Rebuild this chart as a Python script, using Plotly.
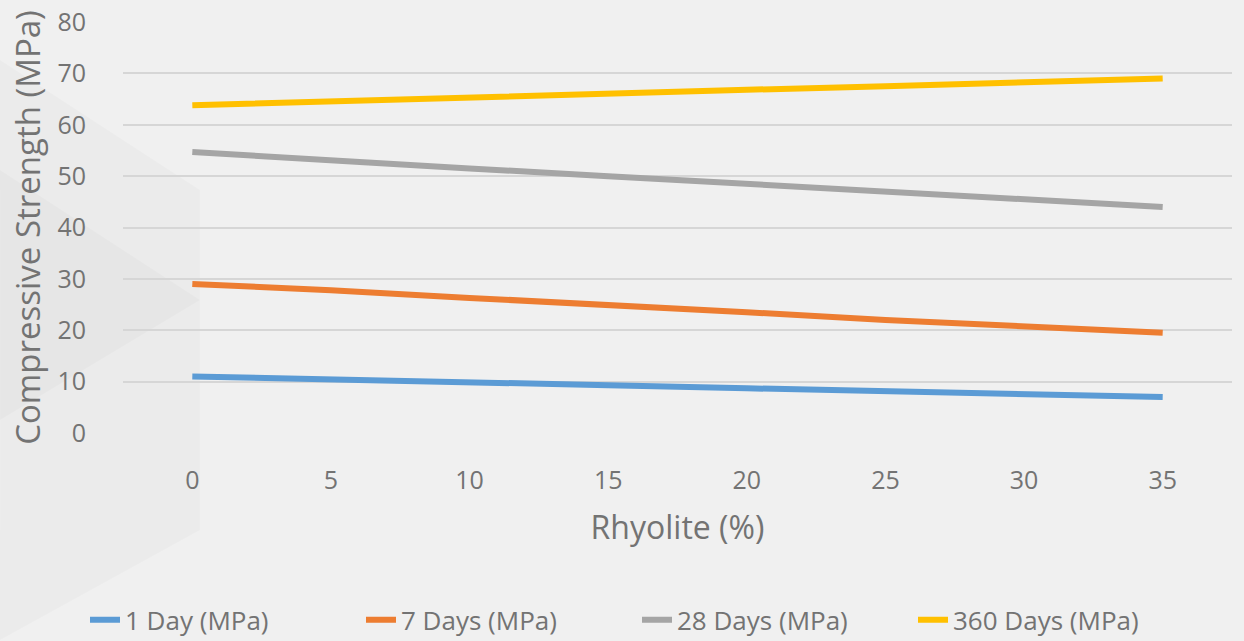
import plotly.graph_objects as go

rhyolite = [0, 5, 10, 15, 20, 25, 30, 35]
day1 = [11.0, 10.5, 10.0, 9.3, 8.7, 8.1, 7.6, 7.0]
day7 = [29.0, 27.8, 26.3, 25.0, 23.5, 22.0, 20.8, 19.5]
day28 = [54.7, 53.0, 51.5, 50.0, 48.5, 47.0, 45.5, 44.0]
day360 = [63.8, 64.6, 65.4, 66.1, 66.8, 67.5, 68.2, 69.0]

series = [
    ("1 Day (MPa)", day1, "#5B9BD5"),
    ("7 Days (MPa)", day7, "#ED7D31"),
    ("28 Days (MPa)", day28, "#A5A5A5"),
    ("360 Days (MPa)", day360, "#FFC000"),
]

fig = go.Figure()
for name, vals, col in series:
    fig.add_trace(go.Scatter(x=rhyolite, y=vals, mode="lines", name=name,
                             line=dict(color=col, width=6)))

txt = "#737373"
W, H, L, R, T, B = 1244, 641, 123, 12, 22, 208
pw, ph = W - L - R, H - T - B


def px2paper(pts):
    return " L ".join(f"{(x - L) / pw:.4f} {(H - B - y) / ph:.4f}" for x, y in pts)


# subtle background facets
for pts, alpha in [([(0, 60), (200, 190), (200, 530), (0, 640)], 0.02),
                   ([(0, 170), (200, 300), (0, 420)], 0.02)]:
    fig.add_shape(type="path", xref="paper", yref="paper", layer="below",
                  path="M " + px2paper(pts) + " Z",
                  fillcolor=f"rgba(0,0,0,{alpha})", line=dict(width=0))

fig.update_layout(
    width=W, height=H,
    paper_bgcolor="#f0f0f0", plot_bgcolor="rgba(0,0,0,0)",
    margin=dict(l=L, r=R, t=T, b=B, autoexpand=False),
    font=dict(family="Open Sans", size=25, color=txt),
    showlegend=True,
    legend=dict(orientation="h", xref="container", x=85 / W, xanchor="left",
                yref="container", y=0.033, yanchor="middle",
                font=dict(family="Open Sans", size=26, color=txt),
                entrywidth=231, entrywidthmode="pixels",
                bgcolor="rgba(0,0,0,0)"),
    xaxis=dict(range=[-2.5, 37.5], tickmode="array", tickvals=rhyolite,
               showgrid=False, zeroline=False, showline=False, automargin=False,
               ticklabelstandoff=30,
               title=dict(text="Rhyolite (%)", font=dict(size=32, color=txt), standoff=21)),
    yaxis=dict(range=[0, 80], dtick=10, showgrid=True, gridcolor="#d6d6d6", gridwidth=1.5,
               zeroline=False, showline=False, automargin=False, ticklabelstandoff=36,
               title=dict(text="Compressive Strength (MPa)", font=dict(size=33, color=txt), standoff=6)),
)

fig.write_html("out.html", config={"displayModeBar": False},
               post_script="document.body.style.margin='0';document.body.style.overflow='hidden';")
